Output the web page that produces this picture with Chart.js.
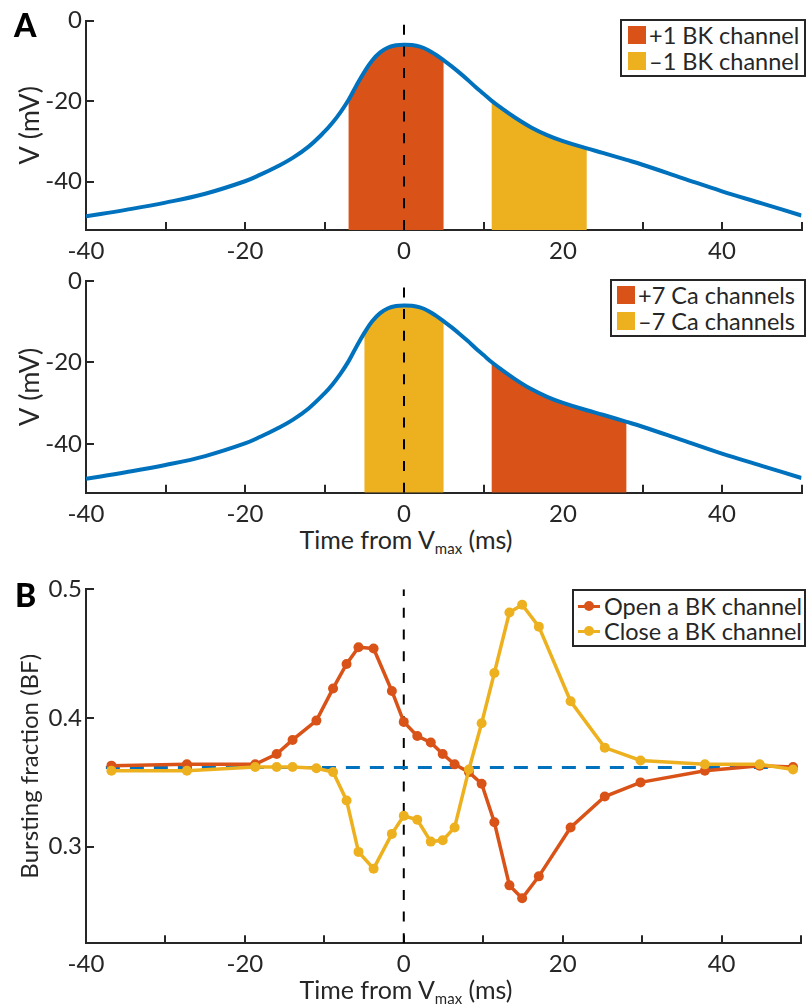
<!DOCTYPE html>
<html>
<head>
<meta charset="utf-8">
<script src="https://cdn.jsdelivr.net/npm/chart.js@4.4.1/dist/chart.umd.min.js"></script>
<style>
  body { margin: 0; background: #fff; font-family: Lato, "Open Sans", sans-serif; color: #262626; }
  #page { position: relative; width: 806px; height: 1006px; overflow: hidden; background: #fff; }
  canvas { position: absolute; left: 0; }
  .txt { position: absolute; line-height: 1; white-space: nowrap; }
  .letter { font-weight: 900; font-size: 32px; color: #000; }
  .xlab { font-size: 25px; transform: translateX(-50%); }
  .xlab sub { font-size: 15px; vertical-align: -5px; }
  .box { position: absolute; border: 2px solid #262626; box-sizing: border-box; background: #fff; }
  .row { position: absolute; display: flex; align-items: center; height: 18px; line-height: 18px; font-size: 23.5px; white-space: nowrap; }
  .sw { width: 18px; height: 18px; margin-right: 3px; }
  .brow { font-size: 23.5px; height: 24px; line-height: 24px; }
  .mk { position: relative; width: 22px; height: 3px; margin-right: 4px; }
  .mk i { position: absolute; left: 6px; top: -3.5px; width: 10px; height: 10px; border-radius: 50%; background: inherit; }
</style>
</head>
<body>
<div id="page">
  <canvas id="chartA1" width="806" height="262" style="top:0"></canvas>
  <canvas id="chartA2" width="806" height="262" style="top:262px"></canvas>
  <canvas id="chartB" width="806" height="446" style="top:560px"></canvas>

  <div class="txt letter" style="left:14px; top:9px">A</div>
  <div class="txt letter" style="left:15px; top:579px">B</div>
  <div class="txt xlab" style="left:406px; top:527px">Time from V<sub>max</sub> (ms)</div>
  <div class="txt xlab" style="left:406px; top:977px">Time from V<sub>max</sub> (ms)</div>

  <div class="box" style="left:620px; top:19px; width:186px; height:58px"></div>
  <div class="row" style="left:628px; top:26px"><div class="sw" style="background:#D95319"></div>+1 BK channel</div>
  <div class="row" style="left:628px; top:52px"><div class="sw" style="background:#EDB120"></div>–1 BK channel</div>

  <div class="box" style="left:610px; top:279px; width:196px; height:58px"></div>
  <div class="row" style="left:617px; top:286px"><div class="sw" style="background:#D95319"></div>+7 Ca channels</div>
  <div class="row" style="left:617px; top:312px"><div class="sw" style="background:#EDB120"></div>–7 Ca channels</div>

  <div class="box" style="left:572px; top:589px; width:234px; height:58px"></div>
  <div class="row brow" style="left:578px; top:594px"><div class="mk" style="background:#D95319"><i></i></div>Open a BK channel</div>
  <div class="row brow" style="left:578px; top:619px"><div class="mk" style="background:#EDB120"><i></i></div>Close a BK channel</div>
</div>
<script>
// time axis shared by all panels
const xTicks = [-40, -30, -20, -10, 0, 10, 20, 30, 40, 50];
const xLabels = [-40, -20, 0, 20, 40];

// panel A: membrane potential around the spike peak (ms, mV)
const times = [-40, -35, -30, -25, -20, -18, -16, -14, -12, -10, -9, -8, -7, -6, -5, -4, -3, -2, -1, 0,
  1, 2, 3, 4, 5, 6, 7, 8, 9, 10, 11, 12, 14, 16, 18, 20, 23, 25, 28, 30, 35, 40, 45, 50];
const vm = [-48.6, -47.0, -45.2, -43.0, -39.9, -38.2, -36.3, -34.1, -31.3, -27.6, -25.4, -22.8, -19.8, -16.2, -12.8, -9.9, -7.9, -6.7, -6.15, -6.0,
  -6.1, -6.5, -7.3, -8.5, -9.9, -11.4, -13.0, -14.7, -16.5, -18.2, -19.9, -21.4, -24.15, -26.55, -28.45, -29.95, -31.75, -32.85, -34.6, -35.8, -39.1, -42.4, -45.4, -48.4];
const vTicks = [-40, -20, 0];
const vRange = [-52, 0];

// shaded windows (ms)
const bkPlusWindow = [-7, 5];
const bkMinusWindow = [11, 23];
const caPlusWindow = [11, 28];
const caMinusWindow = [-5, 5];

// panel B: bursting fraction vs. time of the perturbation
const bTimes = [-36.8, -27.3, -18.7, -16.0, -14.0, -11.0, -8.9, -7.2, -5.7, -3.8, -1.5, 0, 1.7, 3.4, 4.9, 6.4,
  8.2, 9.8, 11.4, 13.3, 14.9, 17.0, 21.0, 25.3, 29.8, 37.9, 44.8, 49.0];
const openBK = [0.363, 0.364, 0.364, 0.372, 0.383, 0.398, 0.423, 0.442, 0.455, 0.454, 0.421, 0.397, 0.386, 0.381, 0.372, 0.364,
  0.358, 0.349, 0.319, 0.270, 0.260, 0.277, 0.315, 0.339, 0.350, 0.359, 0.363, 0.362];
const closeBK = [0.359, 0.359, 0.362, 0.362, 0.362, 0.361, 0.358, 0.336, 0.296, 0.283, 0.310, 0.324, 0.321, 0.304, 0.305, 0.315,
  0.360, 0.396, 0.435, 0.482, 0.488, 0.471, 0.413, 0.377, 0.367, 0.364, 0.364, 0.360];
const baselineBF = 0.3615;
const baselineSpan = [-37.5, 50];
const bfTicks = [0.3, 0.4, 0.5];
const bfRange = [0.225, 0.5];

const AXIS = "#262626";
const BLUE = "#0072BD";
const ORANGE = "#D95319";
const YELLOW = "#EDB120";

Chart.defaults.font.family = 'Lato, "Open Sans", sans-serif';
Chart.defaults.color = AXIS;

function xy(xs, ys) {
  return xs.map((x, i) => ({ x: x, y: ys[i] }));
}

function axisGrid() {
  return { drawOnChartArea: false, drawTicks: true, tickLength: -8, color: AXIS, lineWidth: 2 };
}

function xScale(height) {
  return {
    type: "linear",
    min: -40,
    max: 50,
    afterBuildTicks: (s) => { s.ticks = xTicks.map((v) => ({ value: v })); },
    afterFit: (s) => {
      s.height = height;
      s.paddingLeft = 0;
      s.paddingRight = 0;
    },
    ticks: {
      autoSkip: false,
      maxRotation: 0,
      padding: 15,
      font: { size: 24 },
      callback: (v) => (xLabels.includes(v) ? String(v) : ""),
    },
    grid: axisGrid(),
    border: { color: AXIS, width: 2 },
  };
}

function yScale(range, tickVals, title, titleSize, fmt) {
  return {
    type: "linear",
    min: range[0],
    max: range[1],
    afterBuildTicks: (s) => { s.ticks = tickVals.map((v) => ({ value: v })); },
    afterFit: (s) => {
      s.width = 86;
      s.paddingTop = 0;
      s.paddingBottom = 0;
    },
    ticks: { padding: 12, font: { size: 24 }, callback: fmt },
    grid: axisGrid(),
    border: { color: AXIS, width: 2 },
    title: { display: true, text: title, font: { size: titleSize }, padding: { top: 30 - titleSize * 0.6, bottom: 0 } },
  };
}

function baseOptions(topPad, xHeight, yAxis) {
  return {
    responsive: false,
    animation: false,
    layout: { padding: { top: topPad, right: 4.5, left: 0, bottom: 0 } },
    plugins: { legend: { display: false }, tooltip: { enabled: false } },
    scales: { x: xScale(xHeight), y: yAxis },
  };
}

function windowFill(win, color) {
  return {
    data: xy(times, vm).filter((p) => p.x >= win[0] && p.x <= win[1]),
    backgroundColor: color,
    borderWidth: 0,
    pointRadius: 0,
    fill: "start",
    tension: 0.4,
    order: 3,
  };
}

function voltageChart(id, fills, topPad, xHeight) {
  return new Chart(document.getElementById(id), {
    type: "line",
    data: {
      datasets: [
        ...fills,
        {
          data: xy(times, vm),
          borderColor: BLUE,
          borderWidth: 4,
          pointRadius: 0,
          fill: false,
          tension: 0.4,
          order: 1,
        },
        {
          data: [{ x: 0, y: vRange[0] }, { x: 0, y: vRange[1] }],
          borderColor: "#000",
          borderWidth: 2,
          borderDash: [10, 11.7],
          pointRadius: 0,
          fill: false,
          order: 0,
        },
      ],
    },
    options: baseOptions(topPad, xHeight, yScale(vRange, vTicks, "V (mV)", 27, (v) => String(v))),
  });
}

voltageChart("chartA1", [windowFill(bkPlusWindow, ORANGE), windowFill(bkMinusWindow, YELLOW)], 20.5, 32);
voltageChart("chartA2", [windowFill(caMinusWindow, YELLOW), windowFill(caPlusWindow, ORANGE)], 19, 31.3);

new Chart(document.getElementById("chartB"), {
  type: "line",
  data: {
    datasets: [
      {
        data: [{ x: 0, y: bfRange[0] }, { x: 0, y: bfRange[1] }],
        borderColor: "#000",
        borderWidth: 2,
        borderDash: [10, 11.7],
        pointRadius: 0,
        order: 4,
      },
      {
        data: [{ x: baselineSpan[0], y: baselineBF }, { x: baselineSpan[1], y: baselineBF }],
        borderColor: BLUE,
        borderWidth: 3,
        borderDash: [14, 10],
        pointRadius: 0,
        order: 3,
      },
      {
        label: "Open a BK channel",
        data: xy(bTimes, openBK),
        borderColor: ORANGE,
        backgroundColor: ORANGE,
        borderWidth: 3.5,
        pointRadius: 5,
        pointBorderWidth: 0,
        order: 2,
      },
      {
        label: "Close a BK channel",
        data: xy(bTimes, closeBK),
        borderColor: YELLOW,
        backgroundColor: YELLOW,
        borderWidth: 3.5,
        pointRadius: 5,
        pointBorderWidth: 0,
        order: 1,
      },
    ],
  },
  options: baseOptions(29.3, 62.7, yScale(bfRange, bfTicks, "Bursting fraction (BF)", 24, (v) => v.toFixed(1))),
});
</script>
</body>
</html>
